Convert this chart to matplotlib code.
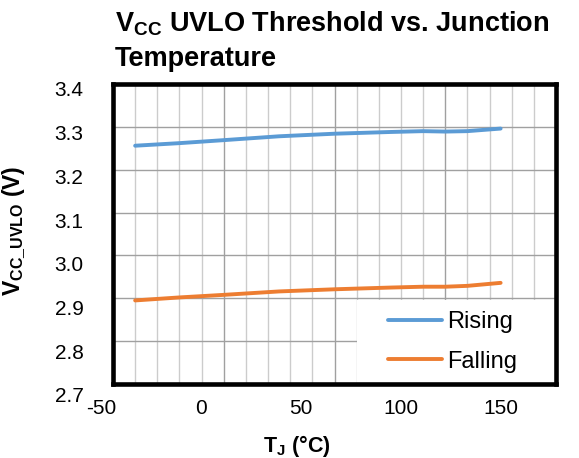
import matplotlib.pyplot as plt
from matplotlib.patches import Rectangle
from matplotlib.ticker import MultipleLocator

plt.rcParams['font.family'] = ['Liberation Sans', 'DejaVu Sans']
plt.rcParams['mathtext.fontset'] = 'custom'
plt.rcParams['mathtext.rm'] = 'Liberation Sans'
plt.rcParams['mathtext.bf'] = 'Liberation Sans:bold'
plt.rcParams['axes.unicode_minus'] = False

# junction temperature (C) and UVLO thresholds (V)
temp = [-40, -20, 0, 25, 50, 75, 90, 100, 110, 125]
rising = [3.256, 3.262, 3.269, 3.278, 3.284, 3.288, 3.290, 3.289, 3.290, 3.296]
falling = [2.895, 2.902, 2.908, 2.916, 2.921, 2.925, 2.927, 2.927, 2.929, 2.936]
x_ticks = [-50, 0, 50, 100, 150]
y_ticks = [2.7, 2.8, 2.9, 3.0, 3.1, 3.2, 3.3, 3.4]

W, H = 579, 458
fig = plt.figure(figsize=(W / 100, H / 100), dpi=100)

# plot area
ax = fig.add_axes([113 / W, 1 - 384 / H, 443 / W, 300 / H])
ax.plot(temp, rising, color='#5b9bd5', lw=2.8, label='Rising', solid_capstyle='round', zorder=3)
ax.plot(temp, falling, color='#ed7d31', lw=2.8, label='Falling', solid_capstyle='round', zorder=3)
ax.set_xlim(-50, 150)
ax.set_ylim(2.7, 3.4)
ax.xaxis.set_major_locator(MultipleLocator(50))
ax.xaxis.set_minor_locator(MultipleLocator(10))
ax.yaxis.set_major_locator(MultipleLocator(0.1))
ax.grid(which='minor', axis='x', color='#cccccc', lw=1.0)
ax.grid(which='major', axis='both', color='#a0a0a0', lw=1.0)
ax.set_axisbelow(True)
ax.tick_params(which='both', length=0, labelbottom=False, labelleft=False)
for s in ax.spines.values():
    s.set_linewidth(3.3)
    s.set_color('black')
    s.set_zorder(4)

# white patch behind the legend
ax.add_patch(Rectangle((0.55, 0), 0.45, 0.28, transform=ax.transAxes,
                       facecolor='white', edgecolor='none', zorder=1.5))
ax.legend(loc='center', bbox_to_anchor=(0.766, 0.141), frameon=False, fontsize=17,
          handlelength=2.3, handletextpad=0.2, labelspacing=0.75, borderpad=0)

# tick labels on their own axes
lab = fig.add_axes([101.5 / W, 1 - 395 / H, 399 / W, 306 / H])
lab.set_xlim(-50, 150)
lab.set_ylim(2.7, 3.4)
lab.set_xticks(x_ticks)
lab.set_yticks(y_ticks)
lab.set_yticklabels([f'{v:.1f}' for v in y_ticks])
lab.tick_params(length=0, labelsize=15)
lab.tick_params(axis='y', pad=13)
lab.tick_params(axis='x', pad=3)
lab.patch.set_visible(False)
for s in lab.spines.values():
    s.set_visible(False)

fig.text(297 / W, 1 - 446 / H, r'T$_\mathbf{J}$ (°C)', fontsize=15.5, fontweight='bold',
         ha='center', va='center')
fig.text(14 / W, 1 - 231 / H, r'V$_\mathbf{CC\_UVLO}$ (V)', fontsize=16.5, fontweight='bold',
         ha='center', va='center', rotation=90)
fig.text(115 / W, 1 - 10 / H, 'V$_\\mathbf{CC}$ UVLO Threshold vs. Junction\nTemperature',
         fontsize=19.5, fontweight='bold', ha='left', va='top', linespacing=1.4)

fig.savefig('out.png', dpi=100)
